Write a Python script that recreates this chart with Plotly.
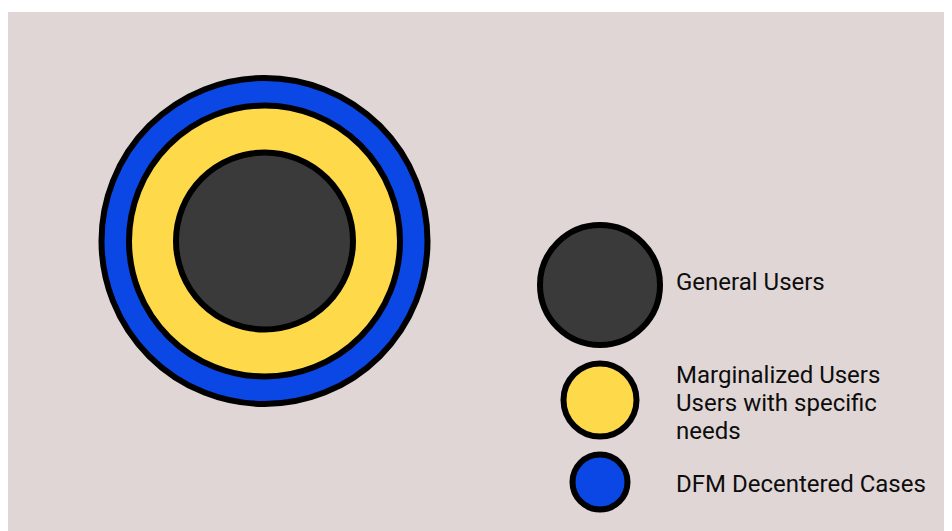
import plotly.graph_objects as go

# ---- data ----
categories = ["General Users", "Marginalized Users", "DFM Decentered Cases"]
category_lines = [["General Users"],
                  ["Marginalized Users", "Users with specific", "needs"],
                  ["DFM Decentered Cases"]]
colors = ["#393a39", "#fed94a", "#0a47e4"]
ring_sizes = [177, 271, 326]        # concentric circle diameters (inner -> outer)
legend_sizes = [120, 73, 55]        # legend bubble diameters

# ---- layout parameters ----
W, H = 1000, 560
TOP = 4
BG = "#e0d6d5"
ring_center = (256.5, 229)
legend_x = 592
legend_y = [273, 388, 470]
label_x = 668
label_y = [272, 393, 473.5]   # centre of each label block
line_gap = 28.3
border = 6

fig = go.Figure()

# concentric rings: draw outermost first
for size, color in sorted(zip(ring_sizes, colors), key=lambda t: -t[0]):
    fig.add_trace(go.Scatter(
        x=[ring_center[0]], y=[ring_center[1]], mode="markers",
        marker=dict(size=size, color=color, opacity=1,
                    line=dict(color="black", width=border)),
        hoverinfo="skip", showlegend=False))

# legend bubbles
fig.add_trace(go.Scatter(
    x=[legend_x] * len(legend_sizes), y=legend_y, mode="markers",
    marker=dict(size=legend_sizes, color=colors, opacity=1,
                line=dict(color="black", width=border)),
    hoverinfo="skip", showlegend=False))

# labels (one text point per line)
tx, ty, tt = [], [], []
for yc, lines in zip(label_y, category_lines):
    n = len(lines)
    for i, line in enumerate(lines):
        tx.append(label_x)
        ty.append(yc + (i - (n - 1) / 2) * line_gap)
        tt.append(line)
fig.add_trace(go.Scatter(
    x=tx, y=ty, mode="text", text=tt, textposition="middle right",
    textfont=dict(family="Roboto", size=24, color="#0d0d0d"),
    hoverinfo="skip", showlegend=False))

fig.update_layout(
    width=W, height=H,
    margin=dict(l=0, r=0, t=TOP, b=0, pad=0),
    paper_bgcolor="white", plot_bgcolor=BG,
    xaxis=dict(range=[0, W], visible=False, fixedrange=True),
    yaxis=dict(range=[H - TOP, 0], visible=False, fixedrange=True),
)

fig.write_html("out.html")
